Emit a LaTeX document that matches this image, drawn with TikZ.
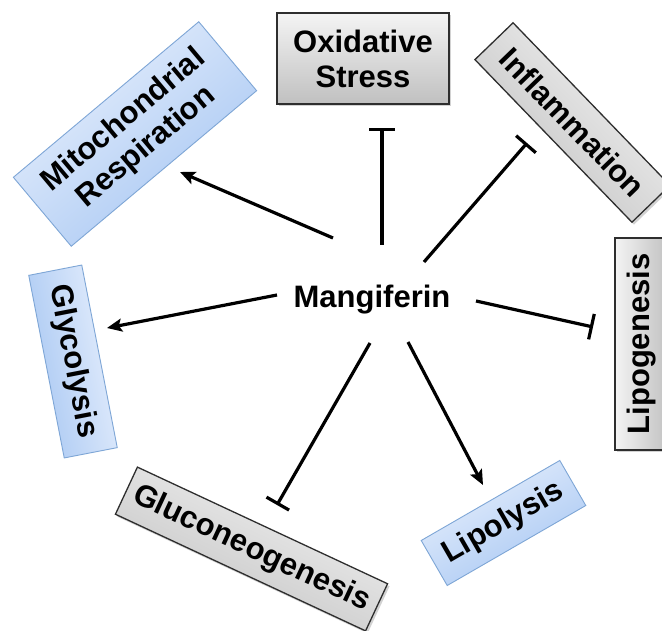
\documentclass[tikz,border=0pt]{standalone}
\usepackage{fontspec}
\setmainfont{Liberation Sans}
\usetikzlibrary{arrows.meta,shadows}
\definecolor{graylt}{HTML}{F4F4F4}
\definecolor{graydk}{HTML}{C0C0C0}
\definecolor{bluelt}{HTML}{E8F0FD}
\definecolor{bluedk}{HTML}{A6C6F2}
\definecolor{blueline}{HTML}{7EA6D6}
\definecolor{grayline}{HTML}{2E2E2E}
\begin{document}
\begin{tikzpicture}[x=1pt,y=1pt,
  lbl/.style={font=\fontsize{31}{35}\selectfont\bfseries, align=center, inner sep=0pt},
  graybox/.style={lbl, draw=grayline, line width=1.3pt, top color=graylt, bottom color=graydk,
    drop shadow={shadow xshift=2pt, shadow yshift=-2.5pt, opacity=0.35}},
  bluebox/.style={lbl, draw=blueline, line width=0.9pt, top color=bluelt, bottom color=bluedk},
  act/.style={line width=3.2pt, -{Stealth[length=15pt,width=13pt,inset=3pt]}},
  inh/.style={line width=3.2pt, -{Bar[width=26pt]}}]
\useasboundingbox (0,0) rectangle (662,630);
\fill[white] (0,0) rectangle (662,630);

\node[lbl] (mang) at (372,330) {Mangiferin};
\node[graybox, minimum width=172pt, minimum height=91pt] (ox) at (363,571.5) {Oxidative\\Stress};
\node[graybox, rotate=-46, shading angle=-46, minimum width=226pt, minimum height=53pt] (infl) at (572.5,507.5) {Inflammation};
\node[bluebox, rotate=40, shading angle=40, minimum width=242pt, minimum height=90pt] (mito) at (135,496) {Mitochondrial\\Respiration};
\node[bluebox, rotate=-79, shading angle=-79, minimum width=186pt, minimum height=54pt] (glyc) at (73,268.5) {Glycolysis};
\node[graybox, rotate=90, shading angle=90, minimum width=212pt, minimum height=54pt] (lipog) at (642,286) {Lipogenesis};
\node[bluebox, rotate=30, shading angle=30, minimum width=160pt, minimum height=52pt] (lipol) at (503.5,107) {Lipolysis};
\node[graybox, rotate=-25, shading angle=-25, minimum width=276pt, minimum height=52pt] (gluc) at (251.5,81) {Gluconeogenesis};

\coordinate (mitoS) at (333,392);  \coordinate (mitoE) at (180,458);
\coordinate (oxS) at (382,385);    \coordinate (oxE) at (382,502);
\coordinate (inflS) at (424,368);  \coordinate (inflE) at (527,487);
\coordinate (lipogS) at (476,329); \coordinate (lipogE) at (593,303);
\coordinate (lipolS) at (408,288); \coordinate (lipolE) at (483,145);
\coordinate (glucS) at (370,287);  \coordinate (glucE) at (277,125);
\coordinate (glycS) at (277,335);  \coordinate (glycE) at (107,302);

\draw[act] (mitoS) -- (mitoE);
\draw[inh] (oxS) -- (oxE);
\draw[inh] (inflS) -- (inflE);
\draw[inh] (lipogS) -- (lipogE);
\draw[act] (lipolS) -- (lipolE);
\draw[inh] (glucS) -- (glucE);
\draw[act] (glycS) -- (glycE);
\end{tikzpicture}
\end{document}
